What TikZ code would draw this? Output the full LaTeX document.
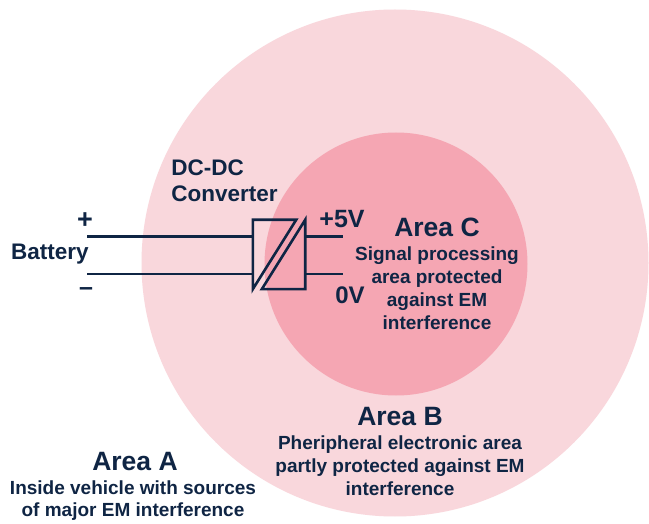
\documentclass[tikz,border=0pt]{standalone}
\usepackage{fontspec}
\setmainfont{Liberation Sans}
\definecolor{navy}{HTML}{0F2544}
\definecolor{pinka}{HTML}{F9D7DC}
\definecolor{pinkb}{HTML}{F5A6B3}
\tikzset{
 wire/.style={draw=navy,line width=2.6pt},
 big/.style={text=navy,font=\fontsize{26.5}{30}\selectfont\bfseries,inner sep=0pt,anchor=center},
 txt/.style={text=navy,font=\fontsize{19}{23}\selectfont\bfseries,inner sep=0pt,align=center,anchor=center},
 lab/.style={text=navy,font=\fontsize{22.5}{26}\selectfont\bfseries,inner sep=0pt,align=left,anchor=center}
}
\begin{document}
\begin{tikzpicture}[x=1pt,y=-1pt]
\useasboundingbox (0,0) rectangle (649,524);
\fill[white] (0,0) rectangle (649,524);
\node[circle,fill=pinka,minimum size=507pt,inner sep=0pt] (outer) at (395,263) {};
\node[circle,fill=pinkb,minimum size=263pt,inner sep=0pt] (inner) at (396,264) {};
\node[minimum width=52pt,minimum height=69pt,inner sep=0pt] (conv) at (279,254.5) {};
\coordinate (plusL) at (87,236.7);
\coordinate (minusL) at (87,274);
\coordinate (plusR) at (343,236.7);
\coordinate (minusR) at (343,274);
\draw[wire] (plusL) -- (plusL-|conv.west);
\draw[wire] (minusL) -- (minusL-|conv.west);
\draw[wire] (plusR-|conv.east) -- (plusR);
\draw[wire] (minusR-|conv.east) -- (minusR);
\draw[wire,line join=miter] (conv.south west) -- (conv.north west) -- ([xshift=-9pt]conv.north east) -- cycle;
\draw[wire,line join=miter] (conv.north east) -- (conv.south east) -- ([xshift=9pt]conv.south west) -- cycle;
\node[lab,font=\fontsize{27}{30}\selectfont\bfseries] (plus) at (85,221) {+};
\node[lab,font=\fontsize{25}{30}\selectfont\bfseries] (minus) at (86,292) {–};
\node[lab] (batt) at (50,254) {Battery};
\node[lab] (dc) at (224.5,181) {DC-DC\\Converter};
\node[lab,font=\fontsize{25}{30}\selectfont\bfseries] (v5) at (342,219) {+5V};
\node[lab,font=\fontsize{24}{30}\selectfont\bfseries] (v0) at (350,295) {0V};
\node[big] (c) at (437,227) {Area C};
\node[txt] (ct) at (437,288.5) {Signal processing\\area protected\\against EM\\interference};
\node[big] (b) at (400,417) {Area B};
\node[txt] (bt) at (400,466) {Pheripheral electronic area\\partly protected against EM\\interference};
\node[big] (a) at (135,462) {Area A};
\node[txt,font=\fontsize{19}{22}\selectfont\bfseries] (at) at (133,500.5) {Inside vehicle with sources\\of major EM interference};
\end{tikzpicture}
\end{document}
